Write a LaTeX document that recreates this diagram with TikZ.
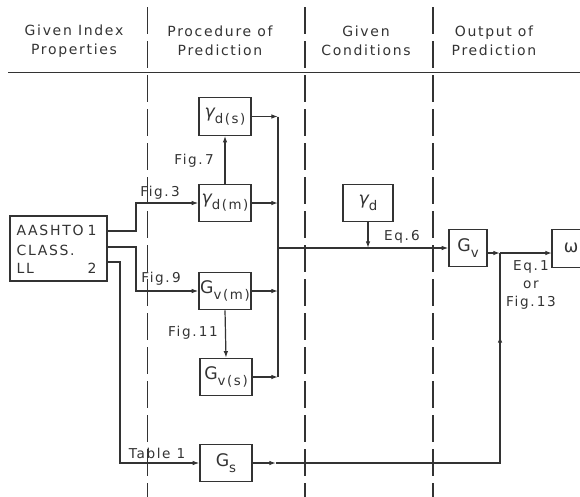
\documentclass[tikz,border=0pt]{standalone}
\usepackage{fontspec}
\setmainfont{DejaVu Sans}[LetterSpace=12]
\usetikzlibrary{arrows.meta}
\newcommand\boxlab[2]{{\fontsize{13}{13}\selectfont #1}\raisebox{-4.5pt}{\fontsize{10}{10}\selectfont #2}}
\begin{document}
\begin{tikzpicture}[x=0.75pt,y=-0.75pt,line width=0.9pt,color=black!80,
  box/.style={draw,minimum width=39pt,minimum height=28pt,inner sep=0pt},
  lbl/.style={font=\fontsize{10.2}{13.5}\selectfont,inner sep=0pt},
  hdr/.style={font=\fontsize{10.5}{14.25}\selectfont,align=center,inner sep=0pt},
  txt/.style={font=\fontsize{10.5}{12}\selectfont,inner sep=0pt},
  arr/.style={-{Latex[length=5pt,width=3.4pt]}},
  sepline/.style={dash pattern=on 20pt off 5.5pt}]
\clip (0,0) rectangle (580,496);
% header
\node[hdr] (h1) at (74,41) {Given Index\\Properties};
\node[hdr] (h2) at (220,41) {Procedure of\\Prediction};
\node[hdr] (h3) at (366,41) {Given\\Conditions};
\node[hdr] (h4) at (494,41) {Output of\\Prediction};
\draw (8,72.5) -- (580,72.5);
\draw[sepline] (147.5,7) -- (147.5,500);
\draw[sepline] (305,7) -- (305,500);
\draw[sepline] (433,7) -- (433,500);
% boxes
\node[box,minimum width=72.75pt,minimum height=48.75pt] (aa) at (58.5,248.5) {};
\node[txt,anchor=west] (t1) at (16,230) {AASHTO};
\node[txt,anchor=west] (t2) at (16,250) {CLASS.};
\node[txt,anchor=west] (t3) at (16,268.5) {LL};
\node[txt] (n1) at (92,230) {1};
\node[txt] (n2) at (92,268.5) {2};
\node[box] (gds) at (225,116.5) {\boxlab{\itshape γ}{d(s)}};
\node[box] (gdm) at (225,203) {\boxlab{\itshape γ}{d(m)}};
\node[box] (gvm) at (225,291) {\boxlab{G}{v(m)}};
\node[box] (gvs) at (226,377) {\boxlab{G}{v(s)}};
\node[box] (gs) at (226,463) {\boxlab{G}{s}};
\node[box,minimum width=37.5pt] (gd) at (368,203) {\boxlab{\itshape γ}{d}};
\node[box,minimum width=28.5pt] (gv) at (468,248) {\boxlab{G}{v}};
\node[box,minimum width=36pt] (om) at (576,248.5) {};
\node[txt,font=\fontsize{13}{13}\selectfont] (omt) at (571,248) {ω};
% ports and bends
\coordinate (p1) at (107,231);
\coordinate (p2) at (107,247);
\coordinate (p3) at (107,262);
\coordinate (ct) at (278,116.5);
\coordinate (cb) at (278,377);
\coordinate (cm) at (278,248);
\coordinate (J) at (500,253);
\coordinate (gvo) at (487,253);
\coordinate (omi) at (552,253);
\coordinate (sc) at (500,463);
% connectors
\draw[arr] (p1) -- (136,231) |- (gdm.west);
\draw[arr] (p2) -- (136,247) |- (gvm.west);
\draw[arr] (p3) -- (120,262) |- (gs.west);
\draw[arr] (gdm.north) -- (gds.south);
\draw[arr] (gvm.south) -- (gvs.north);
\draw[arr] (gds.east) -- (ct);
\draw[arr] (gdm.east) -- (gdm.east -| ct);
\draw[arr] (gvm.east) -- (gvm.east -| ct);
\draw[arr] (gvs.east) -- (cb);
\draw (ct) -- (cb);
\draw[arr] (cm) -- (gv.west);
\draw[arr] (gd.south) -- (gd.south |- cm);
\draw[arr] (gvo) -- (J);
\draw[arr] (J) -- (omi);
\draw[arr] (gs.east) -- (276,463);
\draw (276,463) -- (sc) -- (500,338);
\draw[arr] (sc) -- (500,336);
\draw (500,338) -- (J);
% labels
\node[lbl] (l3) at (160,193) {Fig.\,3};
\node[lbl] (l9) at (161,279) {Fig.\,9};
\node[lbl] (l7) at (194,161) {Fig.\,7};
\node[lbl] (l11) at (193,333) {Fig.\,11};
\node[lbl] (lt) at (157,453) {Table 1};
\node[lbl] (l6) at (402,237) {Eq.\,6};
\node[lbl,align=center] (l1) at (531,285) {Eq.\,1\\or\\Fig.\,13};
\end{tikzpicture}
\end{document}
